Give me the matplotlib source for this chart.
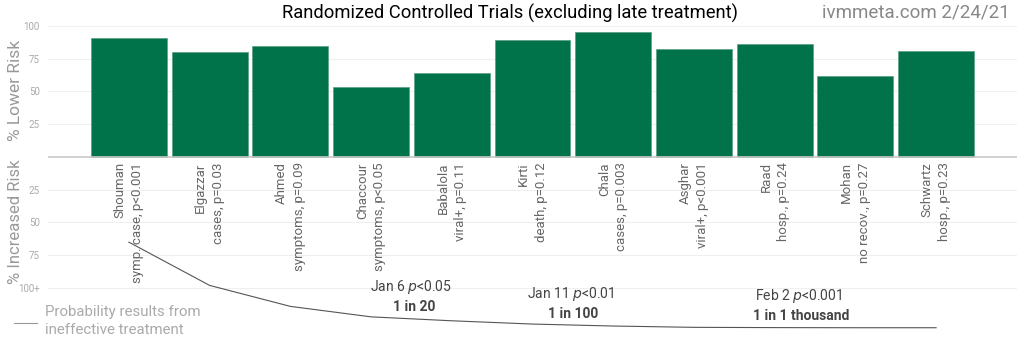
import matplotlib.pyplot as plt

plt.rcParams['font.family'] = ['Roboto', 'DejaVu Sans']

## data
studies = ['Shouman', 'Elgazzar', 'Ahmed', 'Chaccour', 'Babalola', 'Kirti',
           'Chala', 'Asghar', 'Raad', 'Mohan', 'Schwartz']
outcomes = ['symp. case, p<0.001', 'cases, p=0.03', 'symptoms, p=0.09',
            'symptoms, p<0.05', 'viral+, p=0.11', 'death, p=0.12',
            'cases, p=0.003', 'viral+, p<0.001', 'hosp., p=0.24',
            'no recov., p=0.27', 'hosp., p=0.23']
lower_risk = [91, 80, 85, 53, 64, 89, 95, 82, 86, 62, 81]
# curve drawn below the axis (as plotted, negative = increased-risk side)
prob_curve = [-65, -98, -114, -122, -125, -127.5, -129, -130, -130.2, -130.3, -130.3]

ytick_pos = [100, 75, 50, 25, -25, -50, -75, -100]
ytick_lab = ['100', '75', '50', '25', '25', '50', '75', '100+']

# milestones
ms_x = [3.5, 5.47, 8.3]
ms_date = ['Jan 6', 'Jan 11', 'Feb 2']
ms_p = ['0.05', '0.01', '0.001']
ms_odds = ['1 in 20', '1 in 100', '1 in 1 thousand']
ms_y = [-99, -104.5, -106]

green = '#00734b'

fig = plt.figure(figsize=(10.24, 3.41), dpi=100)
ax = fig.add_axes([0.047, 0.017, 0.946, 0.911])

x = list(range(len(studies)))
ax.bar(x, lower_risk, width=0.94, color=green, edgecolor='#5a9e80', linewidth=0.5, zorder=3)

ax.set_xlim(-1, 11)
ax.set_ylim(-136, 101)

# grid
for yv in ytick_pos:
    ax.axhline(yv, color='#eeeef3', lw=0.8, zorder=0)
ax.axhline(0, color='#c8c8c8', lw=1.2, zorder=4)

ax.set_yticks(ytick_pos)
ax.set_yticklabels(ytick_lab, fontsize=7, color='#aaaaaa')
ax.tick_params(axis='y', length=0, pad=6)
ax.set_xticks([])
for s in ax.spines.values():
    s.set_visible(False)

# bar labels
for i in x:
    ax.text(i, -4, studies[i] + '\n' + outcomes[i], rotation=90, ha='center', va='top',
            multialignment='right', fontsize=9.5, color='#666666', linespacing=1.45, zorder=5)

# probability curve
ax.plot(x, prob_curve, color='#555555', lw=0.8, zorder=5)

# milestones
for mx, d, p, o, my in zip(ms_x, ms_date, ms_p, ms_odds, ms_y):
    ax.text(mx, my, d + ' $\\it{p}$<' + p, ha='center', va='center', fontsize=10, color='#444444')
    ax.text(mx + 0.03, my - 15.3, o, ha='center', va='center', fontsize=10,
            fontweight='bold', color='#444444')

# axis titles
fig.text(0.015, 0.735, '% Lower Risk', rotation=90, ha='center', va='center',
         fontsize=12.5, color='#999999')
fig.text(0.015, 0.35, '% Increased Risk', rotation=90, ha='center', va='center',
         fontsize=12, color='#999999')

# legend
fig.lines.append(plt.Line2D([0.014, 0.036], [1 - 323 / 341] * 2, transform=fig.transFigure,
                            color='#999999', lw=0.8))
fig.text(0.044, 1 - 321 / 341, 'Probability results from\nineffective treatment',
         ha='left', va='center', fontsize=10.8, color='#aaaaaa', linespacing=1.35)

# titles
fig.text(0.498, 0.962, 'Randomized Controlled Trials (excluding late treatment)',
         ha='center', va='center', fontsize=13.2, color='black')
fig.text(0.986, 0.962, 'ivmmeta.com 2/24/21', ha='right', va='center',
         fontsize=13.5, color='#888888')

plt.savefig('out.png', dpi=100)
